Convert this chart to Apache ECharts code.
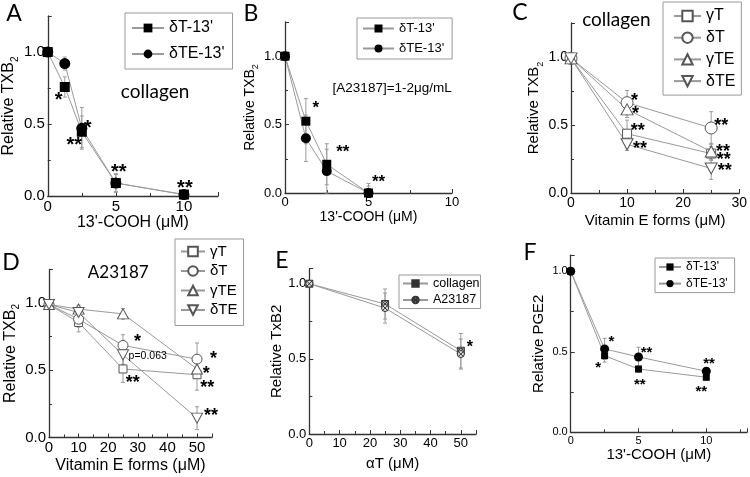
<!DOCTYPE html>
<html><head><meta charset="utf-8">
<script src="https://cdn.jsdelivr.net/npm/echarts@6/dist/echarts.min.js"></script>
<style>html,body{margin:0;padding:0;background:#fff}#c{width:750px;height:477px}</style>
</head><body><div id="c"></div>
<script>
// ---------- DATA ----------
// Panel A (collagen)
const xA = [0, 1.25, 2.5, 5, 10];
const aDT = [1.0, 0.757, 0.446, 0.09, 0.01];
const aDTerr = [0, 0.07, 0.11, 0.065, 0.01];
const aDTE = [1.0, 0.92, 0.47, 0.09, 0.01];
const aDTEerr = [0, 0.045, 0.145, 0.06, 0.01];
const aStars = [[0.8, 0.70, '*'], [1.95, 0.385, '**'], [2.92, 0.5, '*'], [5.22, 0.195, '**'], [10.07, 0.088, '**']];
// Panel B (A23187)
const xB = [0, 1.25, 2.5, 5];
const bDT = [1.0, 0.525, 0.21, 0.0];
const bDTerr = [0, 0.165, 0.15, 0.07];
const bDTE = [1.0, 0.40, 0.16, 0.0];
const bDTEerr = [0, 0.17, 0.16, 0.05];
const bStars = [[1.84, 0.649, '*'], [3.46, 0.325, '**'], [5.6, 0.11, '**']];
// Panel C (collagen, vitamin E forms)
const xC = [0, 10, 25];
const cGT = [0.99, 0.436, 0.29];
const cGTerr = [0, 0.1, 0.05];
const cDT = [0.99, 0.664, 0.478];
const cDTerr = [0, 0.09, 0.12];
const cGTE = [0.99, 0.615, 0.305];
const cGTEerr = [0, 0.06, 0.06];
const cDTE = [0.99, 0.358, 0.18];
const cDTEerr = [0, 0.045, 0.08];
const cStars = [[11.33, 0.711, '*'], [11.5, 0.613, '*'], [11.9, 0.485, '**'], [12.3, 0.358, '**'],
                [26.8, 0.522, '**'], [27.1, 0.334, '**'], [27.25, 0.272, '**'], [27.4, 0.191, '**']];
// Panel D (A23187, vitamin E forms)
const xD = [0, 10, 25, 50];
const dGT = [0.99, 0.856, 0.51, 0.467];
const dGTerr = [0, 0.07, 0.1, 0.115];
const dDT = [0.99, 0.88, 0.685, 0.583];
const dDTerr = [0, 0.06, 0.08, 0.12];
const dGTE = [0.99, 0.955, 0.92, 0.51];
const dGTEerr = [0, 0.03, 0.04, 0.06];
const dDTE = [0.99, 0.93, 0.615, 0.144];
const dDTEerr = [0, 0.04, 0.07, 0.085];
const dStars = [[29.9, 0.739, '*'], [28.3, 0.44, '**'], [55.6, 0.615, '*'], [53.1, 0.503, '*'], [53.5, 0.4, '**'], [54.7, 0.19, '**']];
// Panel E (alpha-T)
const xE = [0, 25, 50];
const eCol = [1.0, 0.865, 0.554];
const eColErr = [0, 0.1, 0.115];
const eA = [1.0, 0.838, 0.532];
const eAErr = [0, 0.1, 0.1];
const eStars = [[53, 0.6, '*']];
// Panel F (PGE2)
const xF = [0, 2.5, 5, 10];
const fDT = [1.0, 0.476, 0.393, 0.342];
const fDTerr = [0, 0.04, 0.02, 0.02];
const fDTE = [1.0, 0.518, 0.468, 0.379];
const fDTEerr = [0, 0.066, 0.06, 0.02];
const fStars = [[3.0, 0.586, '*'], [2.03, 0.424, '*'], [5.59, 0.513, '**'], [5.1, 0.317, '**'], [10.2, 0.445, '**'], [9.63, 0.271, '**']];

// ---------- STYLE / LAYOUT ----------
const FONT = '"Liberation Sans", Arial, sans-serif';
const CAL = 'Lato, "Open Sans", sans-serif';
const AX = '#333';
const LINEC = '#999';
const ERRC = '#9a9a9a';
const filled = {color: '#000', borderColor: '#000', borderWidth: 0};
const hollow = {color: '#fff', borderColor: '#555', borderWidth: 1};
const crossSq = 'path://M0,0L10,0L10,10L0,10ZM0,0L10,10M10,0L0,10M5,1.5A3.5,3.5 0 1 1 4.99,1.5Z';
const crossCi = 'path://M10,5A5,5 0 1 1 9.99,4.7ZM1.5,1.5L8.5,8.5M8.5,1.5L1.5,8.5';

const grids = [], xAxes = [], yAxes = [], legends = [], series = [];

function fmtTick(interval, dec) {
  return v => (Math.abs(v / interval - Math.round(v / interval)) < 1e-6 ? v.toFixed(dec) : '');
}
function axisCommon() {
  return {
    type: 'value', min: 0,
    axisLine: {show: true, onZero: false, lineStyle: {color: AX, width: 1.3}},
    axisTick: {show: true, inside: true, length: 4, lineStyle: {color: AX, width: 1}},
    minorTick: {show: true, splitNumber: 2, length: 3, lineStyle: {color: AX, width: 1}},
    splitLine: {show: false}, minorSplitLine: {show: false},
    nameLocation: 'middle'
  };
}
function errRenderer(errs) {
  return function (params, api) {
    const e = errs[params.dataIndex];
    if (!e) return null;
    const x = api.value(0), y = api.value(1);
    const t = api.coord([x, y + e]), b = api.coord([x, Math.max(0, y - e)]);
    const w = 2;
    const st = {stroke: ERRC, lineWidth: 1};
    return {type: 'group', children: [
      {type: 'line', shape: {x1: t[0], y1: t[1], x2: b[0], y2: b[1]}, style: st},
      {type: 'line', shape: {x1: t[0] - w, y1: t[1], x2: t[0] + w, y2: t[1]}, style: st},
      {type: 'line', shape: {x1: b[0] - w, y1: b[1], x2: b[0] + w, y2: b[1]}, style: st}
    ]};
  };
}
function textRenderer(items, fs, fam, align, bold) {
  return function (params, api) {
    const it = items[params.dataIndex];
    const p = api.coord([it[0], it[1]]);
    const isStar = /^\*+$/.test(it[2]);
    return {type: 'text', x: p[0], y: p[1] + (isStar ? fs * 0.24 : 0),
      style: {text: it[2], fontSize: fs, fontFamily: fam, fontWeight: bold ? 'bold' : 'normal', fill: '#000', align: align || 'center', verticalAlign: 'middle'}};
  };
}

function panel(p) {
  const gi = grids.length;
  grids.push({left: p.grid[0], top: p.grid[1], width: p.grid[2], height: p.grid[3], containLabel: false});
  const xa = axisCommon();
  Object.assign(xa, {gridIndex: gi, max: p.xMax, interval: p.xInt,
    axisLabel: {fontSize: p.tickFs, color: '#000', fontFamily: FONT, margin: 3, formatter: fmtTick(p.xInt, 0), showMaxLabel: true},
    name: p.xName, nameGap: p.xGap, nameTextStyle: {fontSize: p.nameFs, color: '#000', fontFamily: FONT}});
  xAxes.push(xa);
  const ya = axisCommon();
  const yName = p.sub ? '{a|' + p.yName + '}{s|' + p.sub + '}' : p.yName;
  Object.assign(ya, {gridIndex: gi, max: p.yMax, interval: 0.5,
    axisLabel: {fontSize: p.tickFs, color: '#000', fontFamily: FONT, margin: 3, formatter: fmtTick(0.5, 1)},
    name: yName, nameGap: p.yGap,
    nameTextStyle: {fontSize: p.nameFs, color: '#000', fontFamily: FONT,
      rich: {a: {fontSize: p.nameFs, fontFamily: FONT, color: '#000', lineHeight: p.nameFs + 6},
             s: {fontSize: Math.round(p.nameFs * 0.62), fontFamily: FONT, color: '#000', lineHeight: Math.round(p.nameFs * 0.62), verticalAlign: 'bottom'}}}});
  yAxes.push(ya);
  const names = [];
  p.series.forEach(s => {
    const nm = p.key + '|' + s.name;
    names.push(nm);
    series.push({type: 'custom', xAxisIndex: gi, yAxisIndex: gi, z: 1, silent: true,
      data: p.xs.map((x, i) => [x, s.ys[i]]), renderItem: errRenderer(s.err), animation: false});
    series.push({type: 'line', name: nm, xAxisIndex: gi, yAxisIndex: gi, z: 3,
      data: p.xs.map((x, i) => [x, s.ys[i]]), symbol: s.sym, symbolSize: s.size, symbolRotate: s.rot || 0,
      showAllSymbol: true, lineStyle: {color: LINEC, width: 1}, itemStyle: s.style,
      emphasis: {disabled: true}, animation: false, silent: true});
  });
  (p.notes || []).forEach(n => {
    series.push({type: 'custom', xAxisIndex: gi, yAxisIndex: gi, z: 4, silent: true, clip: false,
      data: n.items.map(it => [it[0], it[1]]), renderItem: textRenderer(n.items, n.fs, n.fam, n.align, n.bold), animation: false});
  });
  const L = p.legend;
  legends.push({orient: 'vertical', left: L.left, top: L.top, data: names, selectedMode: false,
    formatter: n => n.split('|')[1], itemWidth: L.iw, itemHeight: L.ih, itemGap: L.gap, padding: L.pad,
    borderColor: '#999', borderWidth: 1, backgroundColor: '#fff',
    textStyle: {fontSize: L.fs, color: '#000', fontFamily: FONT}});
}

panel({key: 'A', grid: [47, 16, 171, 180], xMax: 12.5, xInt: 5, yMax: 1.25, tickFs: 15, nameFs: 16,
  xName: "13'-COOH (\u03bcM)", xGap: 17, yName: 'Relative TXB', sub: '2', yGap: 22, xs: xA,
  series: [
    {name: "\u03b4T-13'", ys: aDT, err: aDTerr, sym: 'rect', size: 10, style: filled},
    {name: "\u03b4TE-13'", ys: aDTE, err: aDTEerr, sym: 'circle', size: 11, style: filled}],
  notes: [{items: aStars, fs: 20, fam: FONT, bold: true}, {items: [[7.88, 0.72, 'collagen']], fs: 19, fam: CAL}],
  legend: {left: 125, top: 13, iw: 32, ih: 11, gap: 10, pad: [7, 8, 7, 6], fs: 16}});

panel({key: 'B', grid: [285, 22, 167, 171], xMax: 10, xInt: 5, yMax: 1.25, tickFs: 13, nameFs: 14,
  xName: "13'-COOH (\u03bcM)", xGap: 14, yName: 'Relative TXB', sub: '2', yGap: 17, xs: xB,
  series: [
    {name: "\u03b4T-13'", ys: bDT, err: bDTerr, sym: 'rect', size: 9, style: filled},
    {name: "\u03b4TE-13'", ys: bDTE, err: bDTEerr, sym: 'circle', size: 10, style: filled}],
  notes: [{items: bStars, fs: 17, fam: FONT, bold: true}, {items: [[6.42, 0.766, '[A23187]=1-2\u03bcg/mL']], fs: 13.5, fam: FONT}],
  legend: {left: 357, top: 18, iw: 31, ih: 10, gap: 7, pad: [4, 8, 4, 5], fs: 13}});

panel({key: 'C', grid: [571, 23, 169, 170], xMax: 30, xInt: 10, yMax: 1.25, tickFs: 14, nameFs: 15,
  xName: 'Vitamin E forms (\u03bcM)', xGap: 20, yName: 'Relative TXB', sub: '2', yGap: 25, xs: xC,
  series: [
    {name: '\u03b3T', ys: cGT, err: cGTerr, sym: 'rect', size: 9, style: hollow},
    {name: '\u03b4T', ys: cDT, err: cDTerr, sym: 'circle', size: 12, style: hollow},
    {name: '\u03b3TE', ys: cGTE, err: cGTEerr, sym: 'triangle', size: [12, 11], style: hollow},
    {name: '\u03b4TE', ys: cDTE, err: cDTEerr, sym: 'triangle', size: [12, 11], rot: 180, style: hollow}],
  notes: [{items: cStars, fs: 18, fam: FONT, bold: true}, {items: [[8.1, 1.27, 'collagen']], fs: 19, fam: CAL}],
  legend: {left: 663, top: 2, iw: 27, ih: 13, gap: 5.7, pad: [6, 6, 6, 10], fs: 16}});

panel({key: 'D', grid: [49, 269.5, 162.8, 168], xMax: 55, xInt: 10, yMax: 1.25, tickFs: 15, nameFs: 16,
  xName: 'Vitamin E forms (\u03bcM)', xGap: 20, yName: 'Relative TXB', sub: '2', yGap: 26, xs: xD,
  series: [
    {name: '\u03b3T', ys: dGT, err: dGTerr, sym: 'rect', size: 8, style: hollow},
    {name: '\u03b4T', ys: dDT, err: dDTerr, sym: 'circle', size: 10, style: hollow},
    {name: '\u03b3TE', ys: dGTE, err: dGTEerr, sym: 'triangle', size: [11, 10], style: hollow},
    {name: '\u03b4TE', ys: dDTE, err: dDTEerr, sym: 'triangle', size: [11, 10], rot: 180, style: hollow}],
  notes: [{items: dStars, fs: 18, fam: FONT, bold: true}, {items: [[23.4, 1.226, 'A23187']], fs: 17, fam: CAL},
          {items: [[26.9, 0.603, 'p=0.063']], fs: 10.5, fam: FONT, align: 'left'}],
  legend: {left: 175, top: 239, iw: 24, ih: 12, gap: 4.5, pad: [5, 6, 8, 5], fs: 15}});

panel({key: 'E', grid: [309.3, 268.7, 166.7, 165.3], xMax: 55, xInt: 10, yMax: 1.1, tickFs: 13, nameFs: 15,
  xName: '\u03b1T (\u03bcM)', xGap: 22, yName: 'Relative TxB2', yGap: 15, xs: xE,
  series: [
    {name: 'collagen', ys: eCol, err: eColErr, sym: crossSq, size: 7, style: {color: '#ddd', borderColor: '#333', borderWidth: 1}},
    {name: 'A23187', ys: eA, err: eAErr, sym: crossCi, size: 7, style: {color: '#ddd', borderColor: '#333', borderWidth: 1}}],
  notes: [{items: eStars, fs: 16, fam: FONT, bold: true}],
  legend: {left: 399, top: 275, iw: 25, ih: 8, gap: 3.5, pad: [2, 1, 2, 3], fs: 12.5}});

panel({key: 'F', grid: [570.7, 255.2, 176.8, 177.1], xMax: 13, xInt: 5, yMax: 1.1, tickFs: 11, nameFs: 15,
  xName: "13'-COOH (\u03bcM)", xGap: 13, yName: 'Relative PGE2', yGap: 24, xs: xF,
  series: [
    {name: "\u03b4T-13'", ys: fDT, err: fDTerr, sym: 'rect', size: 7, style: filled},
    {name: "\u03b4TE-13'", ys: fDTE, err: fDTEerr, sym: 'circle', size: 9, style: filled}],
  notes: [{items: fStars, fs: 15, fam: FONT, bold: true}],
  legend: {left: 655, top: 258, iw: 22, ih: 9, gap: 4.6, pad: [3, 7, 3, 3], fs: 12}});

const letters = [['A', 14, 14], ['B', 251, 14], ['C', 520, 13], ['D', 11, 263], ['E', 282, 261], ['F', 530, 253]];

const chart = echarts.init(document.getElementById('c'), null, {renderer: 'canvas'});
chart.setOption({
  animation: false,
  backgroundColor: '#fff',
  grid: grids, xAxis: xAxes, yAxis: yAxes, legend: legends, series: series,
  graphic: letters.map(l => ({type: 'text', x: l[1], y: l[2], silent: true,
    style: {text: l[0], fontSize: 23, fontFamily: CAL, fill: '#000', align: 'center', verticalAlign: 'middle'}}))
});
</script></body></html>
